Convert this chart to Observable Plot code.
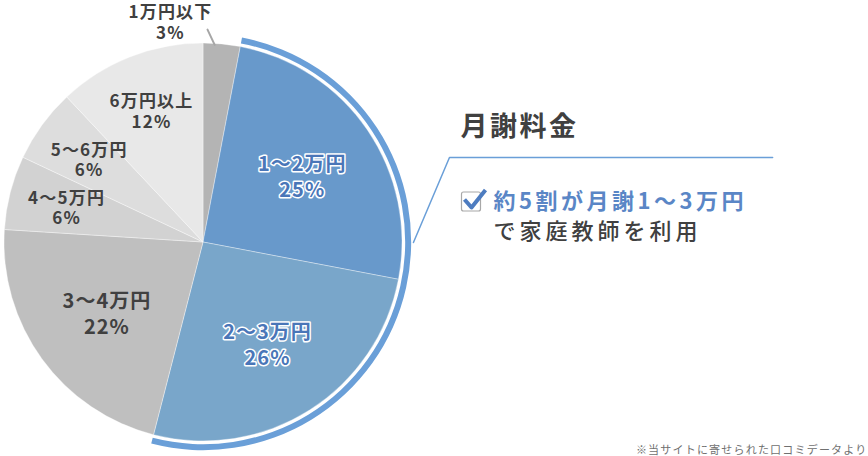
<!DOCTYPE html>
<html><head><meta charset="utf-8">
<script src="https://cdn.jsdelivr.net/npm/d3@7"></script>
<script src="https://cdn.jsdelivr.net/npm/@observablehq/plot@0.6"></script>
<style>
html,body{margin:0;padding:0;background:#fff;}
body{font-family:"Noto Sans CJK JP","Noto Sans",sans-serif;}
</style></head><body><div id="chart"></div>
<script>
// ---- data ----
const categories = ["1万円以下","1～2万円","2～3万円","3～4万円","4～5万円","5～6万円","6万円以上"];
const shares = [3, 25, 26, 22, 6, 6, 12];
const sliceColors = ["#b4b4b4","#6899cb","#79a6ca","#bfbfbf","#d2d2d2","#dddddd","#e8e8e8"];
const highlighted = ["1～2万円","2～3万円"];
const titleText = "月謝料金";
const calloutHead = "約5割が月謝1～3万円";
const calloutBody = "で家庭教師を利用";
const footnoteText = "※当サイトに寄せられた口コミデータより";

// ---- layout ----
const W = 868, H = 456, CX = 203, CY = 242, R = 199;
const FS = {small: 17, large: 20, title: 27, head: 22, body: 22.01, foot: 11};
const letterSpacing = {[FS.small]: 1.2, [FS.large]: 1, [FS.title]: 2.5, [FS.head]: 3.5, [FS.body]: 4, [FS.foot]: 1.2};

const total = d3.sum(shares);
let acc = 0;
const data = categories.map((c, i) => {
  const a0 = acc / total * 2 * Math.PI; acc += shares[i];
  const a1 = acc / total * 2 * Math.PI;
  const mid = (a0 + a1) / 2;
  const share = shares[i];
  let lx, ly;
  if (share < 5) { lx = -0.166; ly = 1.108; }           // outside label
  else { const k = share >= 20 ? 0.6 : 0.71; lx = k * Math.sin(mid); ly = k * Math.cos(mid); }
  return {category: c, share, color: sliceColors[i], hi: highlighted.includes(c),
          a0, a1, mid, lx, ly, label: `${c}\n${share}%`};
});
const hiData = data.filter(d => d.hi);
const outside = data.filter(d => d.share < 5);
const leader = outside.flatMap(d => [
  {id: d.category, x: 1.07 * Math.sin(d.a0 + 0.1 * (d.a1 - d.a0)), y: 1.07 * Math.cos(d.a0 + 0.1 * (d.a1 - d.a0))},
  {id: d.category, x: 0.995 * Math.sin(d.a0 + 0.3 * (d.a1 - d.a0)), y: 0.995 * Math.cos(d.a0 + 0.3 * (d.a1 - d.a0))}
]);
const connector = [[1.055, 0], [1.236, 0.427], [2.86, 0.427]];

const pieMark = (index, scales) => {
  const cx = scales.x(0), cy = scales.y(0), r = scales.x(1) - cx;
  const g = d3.create("svg:g").attr("transform", `translate(${cx},${cy})`);
  const arc = d3.arc();
  g.selectAll("path.slice").data(data).join("path").attr("class", "slice")
    .attr("d", d => arc({innerRadius: 0, outerRadius: r, startAngle: d.a0, endAngle: d.a1}))
    .attr("fill", d => d.color).attr("stroke", "#fff").attr("stroke-width", 0.6).attr("stroke-opacity", 0.6);
  g.append("path")
    .attr("d", arc({innerRadius: r * 1.016, outerRadius: r * 1.046,
                    startAngle: d3.min(hiData, d => d.a0), endAngle: d3.max(hiData, d => d.a1)}))
    .attr("fill", "#6a9fd8");
  return g.node();
};

const checkMark = () => {
  const g = d3.create("svg:g");
  g.append("rect").attr("x", 461.5).attr("y", 192).attr("width", 19).attr("height", 19).attr("rx", 2)
    .attr("fill", "#fff").attr("stroke", "#a8a8a8").attr("stroke-width", 1.2);
  g.append("path").attr("d", "M464.5,199.5 L471.5,207.5 L485.5,190")
    .attr("fill", "none").attr("stroke", "#4d7cc0").attr("stroke-width", 4).attr("stroke-linejoin", "round");
  return g.node();
};

const small = data.filter(d => d.share < 20);
const large = data.filter(d => d.share >= 20);

const plot = Plot.plot({
  width: W, height: H, margin: 0,
  x: {type: "linear", domain: [-CX / R, (W - CX) / R], range: [0, W], axis: null},
  y: {type: "linear", domain: [CY / R, -(H - CY) / R], range: [0, H], axis: null},
  style: {fontFamily: '"Noto Sans CJK JP","Noto Sans",sans-serif', background: "#fff"},
  marks: [
    pieMark,
    Plot.line(leader, {x: "x", y: "y", z: "id", stroke: "#a6a6a6", strokeWidth: 2}),
    Plot.line(connector, {x: d => d[0], y: d => d[1], stroke: "#6a9fd8", strokeWidth: 1.5}),
    Plot.text(small, {x: "lx", y: "ly", text: "label", fontSize: FS.small, fontWeight: 700,
      lineHeight: 1.22, fill: "#404040"}),
    Plot.text(large, {x: "lx", y: "ly", text: "label", fontSize: FS.large, fontWeight: 700, lineHeight: 1.32,
      fill: d => d.hi ? "#4a76b8" : "#404040", stroke: d => d.hi ? "#ffffff" : "none",
      strokeWidth: 3, paintOrder: "stroke"}),
    Plot.text([titleText], {frameAnchor: "top-left", dx: 460, dy: 127, textAnchor: "start", lineAnchor: "middle",
      fontSize: FS.title, fontWeight: 700, fill: "#404040"}),
    checkMark,
    Plot.text([calloutHead], {frameAnchor: "top-left", dx: 493, dy: 201, textAnchor: "start", lineAnchor: "middle",
      fontSize: FS.head, fontWeight: 700, fill: "#5a86c6"}),
    Plot.text([calloutBody], {frameAnchor: "top-left", dx: 493, dy: 231, textAnchor: "start", lineAnchor: "middle",
      fontSize: FS.body, fontWeight: 500, fill: "#404040"}),
    Plot.text([footnoteText], {frameAnchor: "top-left", dx: 867, dy: 450, textAnchor: "end", lineAnchor: "middle",
      fontSize: FS.foot, fill: "#707070"})
  ]
});
d3.select(plot).selectAll("text").attr("letter-spacing", function() {
  const g = this.closest("[font-size]");
  const fs = g ? +g.getAttribute("font-size") : NaN;
  return letterSpacing[fs] != null ? letterSpacing[fs] + "px" : null;
});
document.getElementById("chart").appendChild(plot);
</script></body></html>
